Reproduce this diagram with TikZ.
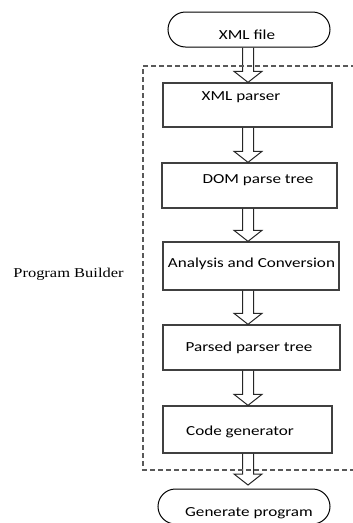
\documentclass[tikz,border=0pt]{standalone}
\usepackage{fontspec}
\setmainfont{Carlito}[FakeStretch=1.24]
\newfontfamily\tnr{Liberation Serif}[FakeStretch=1.22]
\usetikzlibrary{calc}
\tikzset{
  boxnode/.style={draw=black!75, line width=1.3pt, rectangle, inner sep=0pt},
  termnode/.style={draw=black, line width=1pt, rectangle, inner sep=0pt},
  txt/.style={inner sep=0pt, font=\fontsize{13.8}{16}\selectfont},
  blk/.style={draw=black!85, line width=1pt, line join=miter},
  dashbox/.style={draw=black!65, line width=1.1pt, dash pattern=on 5pt off 3pt}
}
\newcommand\blockarrow[2]{%
  \draw[blk] let \p1=(#1.south), \p2=(#2.north) in
    (248pt-5.5pt,\y1) -- (248pt-5.5pt,\y2+11pt) -- (248pt-14pt,\y2+11pt) -- (248pt,\y2)
    -- (248pt+14pt,\y2+11pt) -- (248pt+5.5pt,\y2+11pt) -- (248pt+5.5pt,\y1);}
\begin{document}
\begin{tikzpicture}[x=1pt,y=-1pt]
\useasboundingbox (0,0) rectangle (353,523);
\clip (0,0) rectangle (353,523);
% terminators
\node[termnode, minimum width=162pt, minimum height=35pt, rounded corners=17.5pt] (xmlfile) at (249,29.5) {};
\node[termnode, minimum width=172pt, minimum height=35pt, rounded corners=17.5pt] (genprog) at (244,506.5) {};
% boxes
\node[boxnode, minimum width=169pt, minimum height=44pt] (parser) at (247.5,105) {};
\node[boxnode, minimum width=175pt, minimum height=45pt] (dom) at (249.5,185.5) {};
\node[boxnode, minimum width=176pt, minimum height=48pt] (analysis) at (251,266) {};
\node[boxnode, minimum width=177pt, minimum height=45pt] (parsed) at (251.5,347.5) {};
\node[boxnode, minimum width=169pt, minimum height=47pt] (codegen) at (247.5,429.5) {};
% texts
\node[txt] (t0) at (247,35) {XML file};
\node[txt] (t1) at (241,97) {XML parser};
\node[txt] (t2) at (258,180) {DOM parse tree};
\node[txt] (t3) at (251.5,264) {Analysis and Conversion};
\node[txt] (t4) at (249,348) {Parsed parser tree};
\node[txt] (t5) at (240,432) {Code generator};
\node[txt] (t6) at (249,513) {Generate program};
\node[txt, font=\tnr\fontsize{13.5}{16}\selectfont] (pb) at (68.5,274) {Program Builder};
% arrows
\blockarrow{xmlfile}{parser}
\blockarrow{parser}{dom}
\blockarrow{dom}{analysis}
\blockarrow{analysis}{parsed}
\blockarrow{parsed}{codegen}
\coordinate (gentop) at (248,485);
\draw[blk] let \p1=(codegen.south), \p2=(gentop) in
    (248pt-5.5pt,\y1) -- (248pt-5.5pt,\y2+11pt) -- (248pt-14pt,\y2+11pt) -- (248pt,\y2)
    -- (248pt+14pt,\y2+11pt) -- (248pt+5.5pt,\y2+11pt) -- (248pt+5.5pt,\y1);
% dashed boundary
\coordinate (dtr) at (356,66);
\coordinate (dtl) at (143,66);
\coordinate (dbl) at (143,470);
\coordinate (dbr) at (356,470);
\draw[dashbox] (dtr) -- (dtl) -- (dbl) -- (dbr);
\end{tikzpicture}
\end{document}
